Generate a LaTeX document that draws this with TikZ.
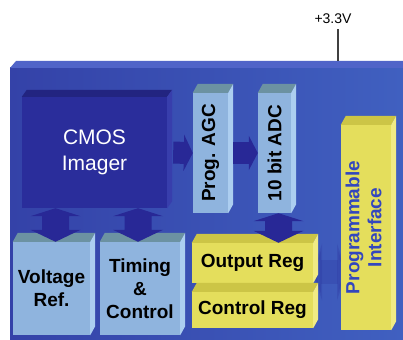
\documentclass[tikz,border=0pt]{standalone}
\usepackage{fontspec}
\setmainfont{Liberation Sans}
\usepackage{graphicx}
\usetikzlibrary{calc,positioning,arrows.meta}

\definecolor{boardleft}{RGB}{52,66,168}
\definecolor{boardright}{RGB}{64,96,192}
\definecolor{boardtop}{RGB}{80,100,200}
\definecolor{cmosfront}{RGB}{42,45,155}
\definecolor{cmostop}{RGB}{34,36,128}
\definecolor{cmosside}{RGB}{56,62,172}
\definecolor{lightfront}{RGB}{143,180,222}
\definecolor{lighttop}{RGB}{108,146,162}
\definecolor{lightside}{RGB}{172,206,240}
\definecolor{yellowfront}{RGB}{228,222,92}
\definecolor{yellowtop}{RGB}{204,197,70}
\definecolor{yellowside}{RGB}{240,235,132}
\definecolor{flowblue}{RGB}{40,40,150}
\definecolor{ifblue}{RGB}{50,70,190}

\tikzset{
  block/.style={inner sep=0pt, align=center, font=\bfseries\fontsize{19}{23}\selectfont},
  lightblock/.style={block, fill=lightfront},
  yellowblock/.style={block, fill=yellowfront},
  flow/.style={draw=flowblue, line width=22pt},
}

\begin{document}
\begin{tikzpicture}[x=1pt, y=-1pt]
  \useasboundingbox (0,0) rectangle (403,339);

  % board
  \shade[left color=boardleft, right color=boardright] (10,68) -- (10,339) -- (403,339) -- (403,68) -- cycle;
  \fill[boardtop] (10,68) -- (16,61) -- (403,61) -- (403,68) -- cycle;

  \node[font=\fontsize{14}{16}\selectfont] (vcc) at (333,19) {+3.3V};
  \coordinate (pin) at (338,61);
  \draw[line width=1.1pt, black!75, shorten <=2pt] (vcc.south -| pin) -- (pin);

  % imager
  \node[inner sep=0pt, fill=cmosfront, text=white, align=center,
        font=\fontsize{21}{26}\selectfont,
        minimum width=145pt, minimum height=111pt] (cmos) at (94.5,152.5) {CMOS\\Imager};
  \fill[cmostop] (cmos.north west) -- ++(5,-7) -- ($(cmos.north east)+(5,-7)$) -- (cmos.north east) -- cycle;
  \fill[cmosside] (cmos.north east) -- ++(5,-7) -- ($(cmos.south east)+(5,-7)$) -- (cmos.south east) -- cycle;

  % blocks
  \coordinate (busl) at (318,272);
  \coordinate (busr) at (341,272);
  \draw[draw=flowblue, opacity=.2, line width=24pt,
        {Triangle[length=10pt,width=56pt]}-{Triangle[length=10pt,width=56pt]}]
        ([xshift=-6pt]busl) -- ([xshift=6pt]busr);

  \node[lightblock, minimum width=35pt, minimum height=120pt] (agc) at (210.5,153) {\rotatebox{90}{Prog. AGC}};
  \node[lightblock, minimum width=33pt, minimum height=120pt] (adc) at (274.5,153) {\rotatebox{90}{10 bit ADC}};
  \node[lightblock, minimum width=77pt, minimum height=93pt] (volt) at (51.5,288.5) {Voltage\\Ref.};
  \node[lightblock, minimum width=80pt, minimum height=93pt] (timing) at (140,288.5) {Timing\\\&\\Control};
  \node[yellowblock, minimum width=121pt, minimum height=40pt] (outreg) at (252.5,263) {Output Reg};
  \node[yellowblock, minimum width=121pt, minimum height=36pt] (ctrlreg) at (252.5,310) {Control Reg};
  \node[yellowblock, text=ifblue, font=\bfseries\fontsize{19}{22}\selectfont,
        minimum width=50pt, minimum height=205pt] (progif) at (366,227.5)
        {\rotatebox{90}{\begin{tabular}{@{}c@{}}Programmable\\Interface\end{tabular}}};

  \foreach \n in {agc,adc,volt,timing} {
    \fill[lighttop] (\n.north west) -- ++(5,-9) -- ($(\n.north east)+(5,-9)$) -- (\n.north east) -- cycle;
    \fill[lightside] (\n.north east) -- ++(5,-9) -- ($(\n.south east)+(5,-9)$) -- (\n.south east) -- cycle;
  }
  \foreach \n in {outreg,ctrlreg,progif} {
    \fill[yellowtop] (\n.north west) -- ++(5,-9) -- ($(\n.north east)+(5,-9)$) -- (\n.north east) -- cycle;
    \fill[yellowside] (\n.north east) -- ++(5,-9) -- ($(\n.south east)+(5,-9)$) -- (\n.south east) -- cycle;
  }

  % data flow
  \draw[flow, -{Triangle[length=9pt,width=36pt]}, shorten <=6pt] (cmos.east) -- (agc.west);
  \draw[flow, -{Triangle[length=9pt,width=34pt]}, shorten <=5pt] (agc.east) -- (adc.west);

  \coordinate (v1) at ([xshift=4pt]volt.north);
  \coordinate (v0) at (cmos.south -| v1);
  \coordinate (t1) at ([xshift=-2pt]timing.north);
  \coordinate (t0) at (cmos.south -| t1);
  \coordinate (o0) at ([xshift=4pt]adc.south);
  \coordinate (o1) at (o0 |- outreg.north);
  \foreach \p in {v,t,o}
    \fill[flowblue] (\p0) -- ++(25,8) -- ++(-11.5,0) -- ($(\p1)+(13.5,-12)$) -- ++(11.5,0)
      -- (\p1) -- ++(-25,-12) -- ++(11.5,0) -- ($(\p0)+(-13.5,8)$) -- ++(-11.5,0) -- cycle;
\end{tikzpicture}
\end{document}
